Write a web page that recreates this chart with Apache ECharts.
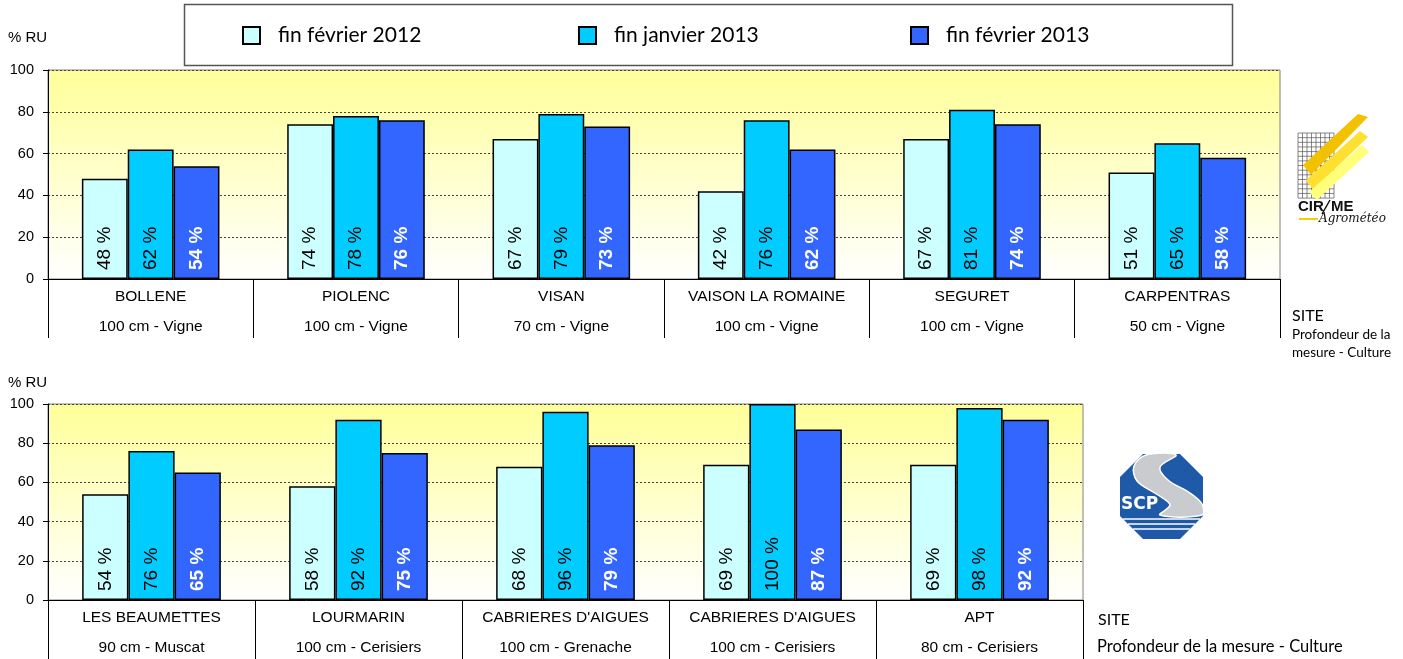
<!DOCTYPE html>
<html>
<head>
<meta charset="utf-8">
<script src="https://cdn.jsdelivr.net/npm/echarts@6/dist/echarts.min.js"></script>
<style>
html,body{margin:0;padding:0;background:#fff;}
#chart{width:1403px;height:659px;}
</style>
</head>
<body>
<div id="chart"></div>
<script>
// ---- data ----
const seriesNames = ['fin février 2012', 'fin janvier 2013', 'fin février 2013'];

const topSites = ['BOLLENE', 'PIOLENC', 'VISAN', 'VAISON LA ROMAINE', 'SEGURET', 'CARPENTRAS'];
const topDepths = ['100 cm - Vigne', '100 cm - Vigne', '70 cm - Vigne', '100 cm - Vigne', '100 cm - Vigne', '50 cm - Vigne'];
const topFeb2012 = [48, 74, 67, 42, 67, 51];
const topJan2013 = [62, 78, 79, 76, 81, 65];
const topFeb2013 = [54, 76, 73, 62, 74, 58];

const botSites = ['LES BEAUMETTES', 'LOURMARIN', "CABRIERES D'AIGUES", "CABRIERES D'AIGUES", 'APT'];
const botDepths = ['90 cm - Muscat', '100 cm - Cerisiers', '100 cm - Grenache', '100 cm - Cerisiers', '80 cm - Cerisiers'];
const botFeb2012 = [54, 58, 68, 69, 69];
const botJan2013 = [76, 92, 96, 100, 98];
const botFeb2013 = [65, 75, 79, 87, 92];

const yTicks = [0, 20, 40, 60, 80, 100];

// ---- styling ----
const colors = ['#CCFFFF', '#00CCFF', '#3366FF'];
const labelFont = 'Liberation Sans, Arial, sans-serif';
const sideFont = 'Lato, "Open Sans", sans-serif';

const chart = echarts.init(document.getElementById('chart'));

function catData(sites, depths) {
  return sites.map((s, i) => s + '|' + depths[i]);
}

function xAxisFor(gridIndex, sites, depths, tickLen) {
  return {
    type: 'category',
    gridIndex: gridIndex,
    data: catData(sites, depths),
    boundaryGap: true,
    axisLine: { show: true, lineStyle: { color: '#000', width: 1 } },
    axisTick: { show: true, interval: 0, length: tickLen, lineStyle: { color: '#000', width: 1 } },
    axisLabel: {
      interval: 0,
      margin: 3,
      formatter: function (v) {
        const p = v.split('|');
        return '{a|' + p[0] + '}\n{b|' + p[1] + '}';
      },
      rich: {
        a: { fontFamily: labelFont, fontSize: 15.5, color: '#000', lineHeight: 30 },
        b: { fontFamily: labelFont, fontSize: 15.5, color: '#000', lineHeight: 30 }
      }
    },
    splitLine: { show: false }
  };
}

function yAxisFor(gridIndex) {
  return {
    type: 'value',
    gridIndex: gridIndex,
    min: yTicks[0],
    max: yTicks[yTicks.length - 1],
    interval: yTicks[1] - yTicks[0],
    axisLine: { show: true, lineStyle: { color: '#000', width: 1 } },
    axisTick: { show: true, length: 5, lineStyle: { color: '#000' } },
    axisLabel: { margin: 14, fontFamily: labelFont, fontSize: 14.5, color: '#000' },
    splitLine: { show: true, lineStyle: { color: '#444', type: [2, 2], width: 1 } }
  };
}

function barSeries(name, data, idx, gridIdx) {
  const white = idx === 2;
  return {
    name: name,
    type: 'bar',
    xAxisIndex: gridIdx,
    yAxisIndex: gridIdx,
    data: data,
    barGap: '0%',
    barCategoryGap: '33%',
    itemStyle: { color: colors[idx], borderColor: '#000', borderWidth: 1.5 },
    label: {
      show: true,
      position: 'insideBottom',
      distance: 9,
      rotate: 90,
      align: 'left',
      verticalAlign: 'middle',
      formatter: '{c} %',
      fontFamily: labelFont,
      fontSize: 19,
      fontWeight: white ? 'bold' : 'normal',
      color: white ? '#fff' : '#000'
    },
    emphasis: { disabled: true }
  };
}

const bgGradient = new echarts.graphic.LinearGradient(0, 0, 0, 1, [
  { offset: 0, color: '#FFFF99' }, { offset: 1, color: '#FFFFFF' }
]);

const legendPos = [242, 578, 910];

// logo graphics
const logo = [];
// CIRAME grid
for (let i = 0; i <= 8; i++) {
  logo.push({ type: 'line', shape: { x1: 1298 + i * 4.5, y1: 133, x2: 1298 + i * 4.5, y2: 198 }, style: { stroke: '#555', lineWidth: 0.7 } });
}
for (let j = 0; j <= 14; j++) {
  logo.push({ type: 'line', shape: { x1: 1298, y1: 133 + j * 4.65, x2: 1334, y2: 133 + j * 4.65 }, style: { stroke: '#555', lineWidth: 0.7 } });
}
// yellow strokes
logo.push({ type: 'polygon', shape: { points: [[1303, 165], [1358, 114], [1368, 117], [1311, 175]] }, style: { fill: '#F2C200' } });
logo.push({ type: 'polygon', shape: { points: [[1306, 180], [1360, 131], [1368, 137], [1313, 190]] }, style: { fill: '#FFE030' } });
logo.push({ type: 'polygon', shape: { points: [[1309, 192], [1362, 145], [1369, 152], [1317, 200]] }, style: { fill: '#FFFF7A' } });
logo.push({ type: 'text', style: { text: 'CIR', x: 1298, y: 207, fontFamily: labelFont, fontSize: 15, fontWeight: 'bold', fill: '#111', verticalAlign: 'middle' } });
logo.push({ type: 'text', style: { text: 'ME', x: 1331, y: 207, fontFamily: labelFont, fontSize: 15, fontWeight: 'bold', fill: '#111', verticalAlign: 'middle' } });
logo.push({ type: 'line', shape: { x1: 1322, y1: 214, x2: 1330, y2: 200 }, style: { stroke: '#111', lineWidth: 1.5 } });
logo.push({ type: 'text', style: { text: 'Agrométéo', x: 1319, y: 219, fontFamily: 'DejaVu Serif, serif', fontSize: 12, fontStyle: 'italic', fill: '#111', verticalAlign: 'middle' } });
logo.push({ type: 'line', shape: { x1: 1299, y1: 219, x2: 1318, y2: 219 }, style: { stroke: '#F5D000', lineWidth: 2 } });
// SCP logo
logo.push({ type: 'polygon', shape: { points: [[1143, 454], [1180, 454], [1203, 477], [1203, 516], [1180, 539], [1143, 539], [1120, 516], [1120, 477]] }, style: { fill: '#1E5AA8' } });
logo.push({ type: 'polygon', shape: { smooth: 0.35, points: [[1146, 455], [1176, 455], [1160, 467], [1168, 480], [1190, 493], [1202, 504], [1202, 515], [1160, 515], [1170, 505], [1158, 495], [1137, 481], [1134, 466]] }, style: { fill: '#C9CBCE', stroke: '#fff', lineWidth: 1.5 } });
logo.push({ type: 'text', style: { text: 'SCP', x: 1121, y: 505, fontFamily: 'DejaVu Sans, sans-serif', fontSize: 17, fontWeight: 'bold', fill: '#fff', verticalAlign: 'middle' } });
[519, 524, 529].forEach(function (y) {
  const cut = y - 516;
  logo.push({ type: 'line', shape: { x1: 1120 + cut, y1: y, x2: 1203 - cut, y2: y }, style: { stroke: '#fff', lineWidth: 1.5 } });
});

const option = {
  animation: false,
  backgroundColor: '#fff',
  legend: seriesNames.map(function (n, i) {
    return {
      data: [n],
      left: legendPos[i],
      top: 25,
      padding: 0,
      icon: 'rect',
      itemWidth: 17,
      itemHeight: 17,
      selectedMode: false,
      textStyle: { fontFamily: sideFont, fontSize: 21, color: '#000', padding: [0, 0, 0, 13] }
    };
  }),
  grid: [
    { left: 48, top: 70, width: 1232, height: 209, show: true, backgroundColor: bgGradient, borderColor: '#808080', borderWidth: 1 },
    { left: 48, top: 404, width: 1035, height: 196, show: true, backgroundColor: bgGradient, borderColor: '#808080', borderWidth: 1 }
  ],
  xAxis: [
    xAxisFor(0, topSites, topDepths, 59),
    xAxisFor(1, botSites, botDepths, 59)
  ],
  yAxis: [yAxisFor(0), yAxisFor(1)],
  series: [
    barSeries(seriesNames[0], topFeb2012, 0, 0),
    barSeries(seriesNames[1], topJan2013, 1, 0),
    barSeries(seriesNames[2], topFeb2013, 2, 0),
    barSeries(seriesNames[0], botFeb2012, 0, 1),
    barSeries(seriesNames[1], botJan2013, 1, 1),
    barSeries(seriesNames[2], botFeb2013, 2, 1)
  ],
  graphic: [
    { type: 'rect', shape: { x: 184.5, y: 4.5, width: 1048, height: 61 }, style: { fill: 'none', stroke: '#555', lineWidth: 1.5 }, z: -1 },
    { type: 'text', style: { text: '% RU', x: 8, y: 38, fontFamily: labelFont, fontSize: 15, fill: '#000', verticalAlign: 'middle' } },
    { type: 'text', style: { text: '% RU', x: 8, y: 383, fontFamily: labelFont, fontSize: 15, fill: '#000', verticalAlign: 'middle' } },
    { type: 'text', style: { text: 'SITE', x: 1292, y: 316, fontFamily: sideFont, fontSize: 16, fill: '#000', verticalAlign: 'middle' } },
    { type: 'text', style: { text: 'Profondeur de la', x: 1292, y: 335, fontFamily: sideFont, fontSize: 13.5, fill: '#000', verticalAlign: 'middle' } },
    { type: 'text', style: { text: 'mesure - Culture', x: 1292, y: 353, fontFamily: sideFont, fontSize: 13.5, fill: '#000', verticalAlign: 'middle' } },
    { type: 'text', style: { text: 'SITE', x: 1098, y: 620, fontFamily: sideFont, fontSize: 16, fill: '#000', verticalAlign: 'middle' } },
    { type: 'text', style: { text: 'Profondeur de la mesure - Culture', x: 1097, y: 647, fontFamily: sideFont, fontSize: 16.5, fill: '#000', verticalAlign: 'middle' } }
  ].concat(logo)
};

chart.setOption(option);
</script>
</body>
</html>
